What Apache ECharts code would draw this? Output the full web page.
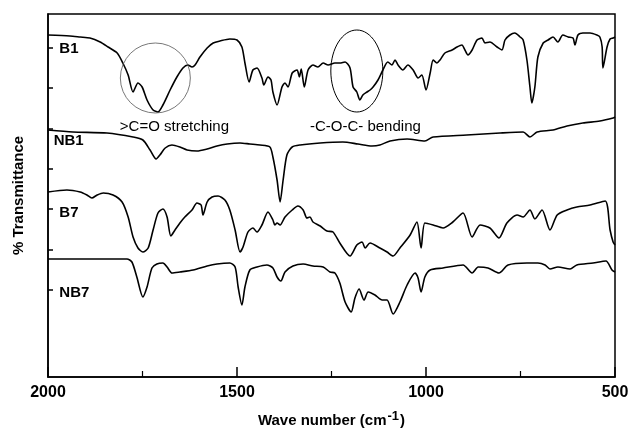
<!DOCTYPE html>
<html>
<head>
<meta charset="utf-8">
<script src="https://cdn.jsdelivr.net/npm/echarts@6/dist/echarts.min.js"></script>
<style>html,body{margin:0;padding:0;background:#fff}#c{width:630px;height:433px}</style>
</head>
<body>
<div id="c"></div>
<script>
// Wavenumber (cm-1) and transmittance (arbitrary offset units)
var b1Wn = [2000,1942,1915,1889,1862,1841,1817,1802,1788,1775,1762,1751,1738,1722,1709,1696,1677,1659,1643,1630,1619,1611,1598,1579,1563,1545,1519,1500,1487,1479,1468,1458,1447,1434,1429,1418,1410,1405,1394,1381,1373,1365,1354,1341,1335,1330,1322,1312,1299,1286,1272,1259,1241,1228,1214,1201,1193,1183,1175,1167,1156,1148,1140,1127,1114,1101,1090,1082,1074,1061,1048,1034,1021,1011,1000,989,981,971,963,950,931,918,905,897,889,878,865,852,844,831,812,799,791,778,765,751,743,733,725,720,712,704,690,677,664,651,638,624,611,606,598,585,566,548,540,534,532,521,513,505,500];
var b1T  = [342,341,340,339,335,330,324,314,302,285,294,290,277,267,265,272,287,300,309,312,310,312,320,329,334,336,338,337,330,314,295,307,309,299,292,300,297,285,272,290,294,290,304,307,300,308,290,307,312,310,314,312,314,314,315,309,290,285,277,282,285,287,290,297,307,315,312,317,312,307,312,307,299,302,287,304,317,314,317,324,327,330,332,327,322,327,337,339,334,335,330,327,337,342,344,340,337,317,290,274,290,320,334,337,340,335,342,340,339,332,342,344,344,342,340,330,309,330,338,339,340];

var nb1Wn = [2000,1934,1844,1775,1749,1730,1714,1704,1690,1672,1651,1632,1606,1579,1553,1526,1492,1466,1439,1413,1405,1394,1386,1378,1368,1354,1333,1280,1220,1180,1143,1122,1095,1050,1003,981,892,804,743,725,706,664,627,585,540,505,500];
var nb1T  = [247,245,244,240,237,227,218,222,229,232,230,227,226,228,231,233,234,233,232,230,220,197,175,197,222,230,232,234,235,233,231,232,236,238,236,240,242,244,245,240,245,247,251,254,256,259,260];

var b7Wn = [2000,1950,1915,1897,1884,1870,1854,1828,1804,1788,1775,1762,1749,1735,1722,1709,1696,1685,1675,1664,1651,1638,1619,1606,1595,1590,1579,1566,1550,1532,1519,1505,1492,1484,1471,1458,1447,1434,1418,1405,1400,1394,1386,1373,1354,1339,1325,1315,1307,1299,1280,1262,1246,1228,1201,1183,1169,1161,1148,1122,1103,1087,1069,1042,1024,1013,1003,981,955,929,902,878,857,831,807,786,759,743,725,712,693,672,653,627,601,566,526,513,505,500];
var b7T  = [185,187,185,182,179,182,184,182,175,160,140,129,125,129,147,164,168,160,141,147,154,160,167,174,172,162,175,180,181,177,167,147,125,130,145,149,145,152,165,157,152,154,152,160,167,171,167,159,160,155,151,146,145,134,121,132,135,129,134,129,125,121,129,142,155,129,154,152,149,155,164,140,152,149,139,154,162,160,167,158,167,147,162,167,170,172,176,147,135,132];

var nb7Wn = [2000,1934,1844,1791,1778,1765,1749,1738,1725,1712,1696,1685,1672,1651,1616,1579,1553,1519,1505,1497,1487,1479,1466,1447,1421,1405,1394,1384,1373,1352,1325,1299,1272,1254,1241,1228,1214,1198,1188,1177,1164,1153,1135,1116,1103,1087,1069,1050,1029,1021,1013,1003,989,955,902,878,862,836,807,783,733,704,685,672,651,619,601,558,524,508,500];
var nb7T  = [118,118,118,118,115,100,80,90,109,113,114,110,104,105,107,111,113,114,110,90,72,90,107,110,112,109,100,96,105,111,113,111,110,105,104,94,75,65,79,88,77,85,82,77,77,63,75,92,104,99,85,100,107,109,112,104,110,109,104,112,114,114,112,108,110,108,112,114,116,107,105];

var seriesNames = ['B1','NB1','B7','NB7'];
var xTicks = [2000,1500,1000,500];
var yTickValues = [87,127,168,208,248,289,329];

function pairs(w, t){ return w.map(function(v,i){ return [v, t[i]]; }); }

var FONT = '"Liberation Sans", Arial, sans-serif';
var chart = echarts.init(document.getElementById('c'), null, {renderer:'canvas'});

var allData = [pairs(b1Wn,b1T), pairs(nb1Wn,nb1T), pairs(b7Wn,b7T), pairs(nb7Wn,nb7T)];

chart.setOption({
  animation:false,
  backgroundColor:'#fff',
  grid:{left:48, right:15, top:14, bottom:56, containLabel:false, outerBoundsMode:'none',
    show:true, borderColor:'#000', borderWidth:1.5, backgroundColor:'transparent'},
  xAxis:{
    type:'value', min:500, max:2000, interval:500, inverse:true,
    axisLine:{lineStyle:{color:'#000', width:1.5}},
    axisTick:{inside:true, length:10, lineStyle:{color:'#000', width:1.5}},
    minorTick:{show:true, splitNumber:2, length:6, lineStyle:{color:'#000', width:1.2}},
    splitLine:{show:false},
    axisLabel:{color:'#000', fontFamily:FONT, fontWeight:'bold', fontSize:16, margin:8, showMinLabel:true, showMaxLabel:true,
      formatter:function(v){ return xTicks.indexOf(v) >= 0 ? String(v) : ''; }},
    name:'{a|Wave number (cm}{s|-1}{a|)}', nameLocation:'middle', nameGap:33,
    nameTextStyle:{rich:{a:{fontFamily:FONT, fontWeight:'bold', fontSize:15, color:'#000', verticalAlign:'bottom', lineHeight:18}, s:{fontFamily:FONT, fontWeight:'bold', fontSize:13, color:'#000', verticalAlign:'top', padding:[0,1,16,1], lineHeight:18}}}
  },
  yAxis:{
    type:'value', min:0, max:363,
    axisLine:{show:true, lineStyle:{color:'#000', width:1.5}},
    axisTick:{show:false},
    axisLabel:{show:false},
    splitLine:{show:false},
    name:'% Transmittance', nameLocation:'middle', nameGap:22, nameRotate:90,
    nameTextStyle:{fontFamily:FONT, fontWeight:'bold', fontSize:15, color:'#000'}
  },
  series: allData.map(function(d, i){
    return {type:'line', name:seriesNames[i], data:d, showSymbol:false, smooth:0.25,
      lineStyle:{color:'#000', width:1.6}, z:3};
  })
});

function px(w, t){ return chart.convertToPixel({gridIndex:0}, [w, t]); }
var labelPos = [[1970,328],[1985,236],[1970,164],[1970,84]];
var g = [];
// y-axis tick marks (inside), positioned through the y scale
yTickValues.forEach(function(v){
  var p = px(2000, v);
  g.push({type:'line', shape:{x1:p[0], y1:p[1], x2:p[0] + 5, y2:p[1]}, style:{stroke:'#000', lineWidth:1.5}, z:5});
});
seriesNames.forEach(function(n, i){
  var p = px(labelPos[i][0], labelPos[i][1]);
  g.push({type:'text', x:p[0], y:p[1], style:{text:n, fill:'#000', font:'bold 15px ' + FONT, textVerticalAlign:'middle', textAlign:'left'}});
});
var a1 = px(1810, 250), a2 = px(1307, 250);
g.push({type:'text', x:a1[0], y:a1[1], style:{text:'>C=O stretching', fill:'#000', font:'15px ' + FONT, textVerticalAlign:'middle'}});
g.push({type:'text', x:a2[0], y:a2[1], style:{text:'-C-O-C- bending', fill:'#000', font:'15px ' + FONT, textVerticalAlign:'middle'}});
var c1 = px(1716, 299), c2 = px(1183, 306);
g.push({type:'circle', shape:{cx:c1[0], cy:c1[1], r:35}, style:{fill:'none', stroke:'#555', lineWidth:0.8}, z:10});
g.push({type:'ellipse', shape:{cx:c2[0], cy:c2[1], rx:26, ry:41}, style:{fill:'none', stroke:'#000', lineWidth:1}, z:10});
chart.setOption({graphic:g});
</script>
</body>
</html>
